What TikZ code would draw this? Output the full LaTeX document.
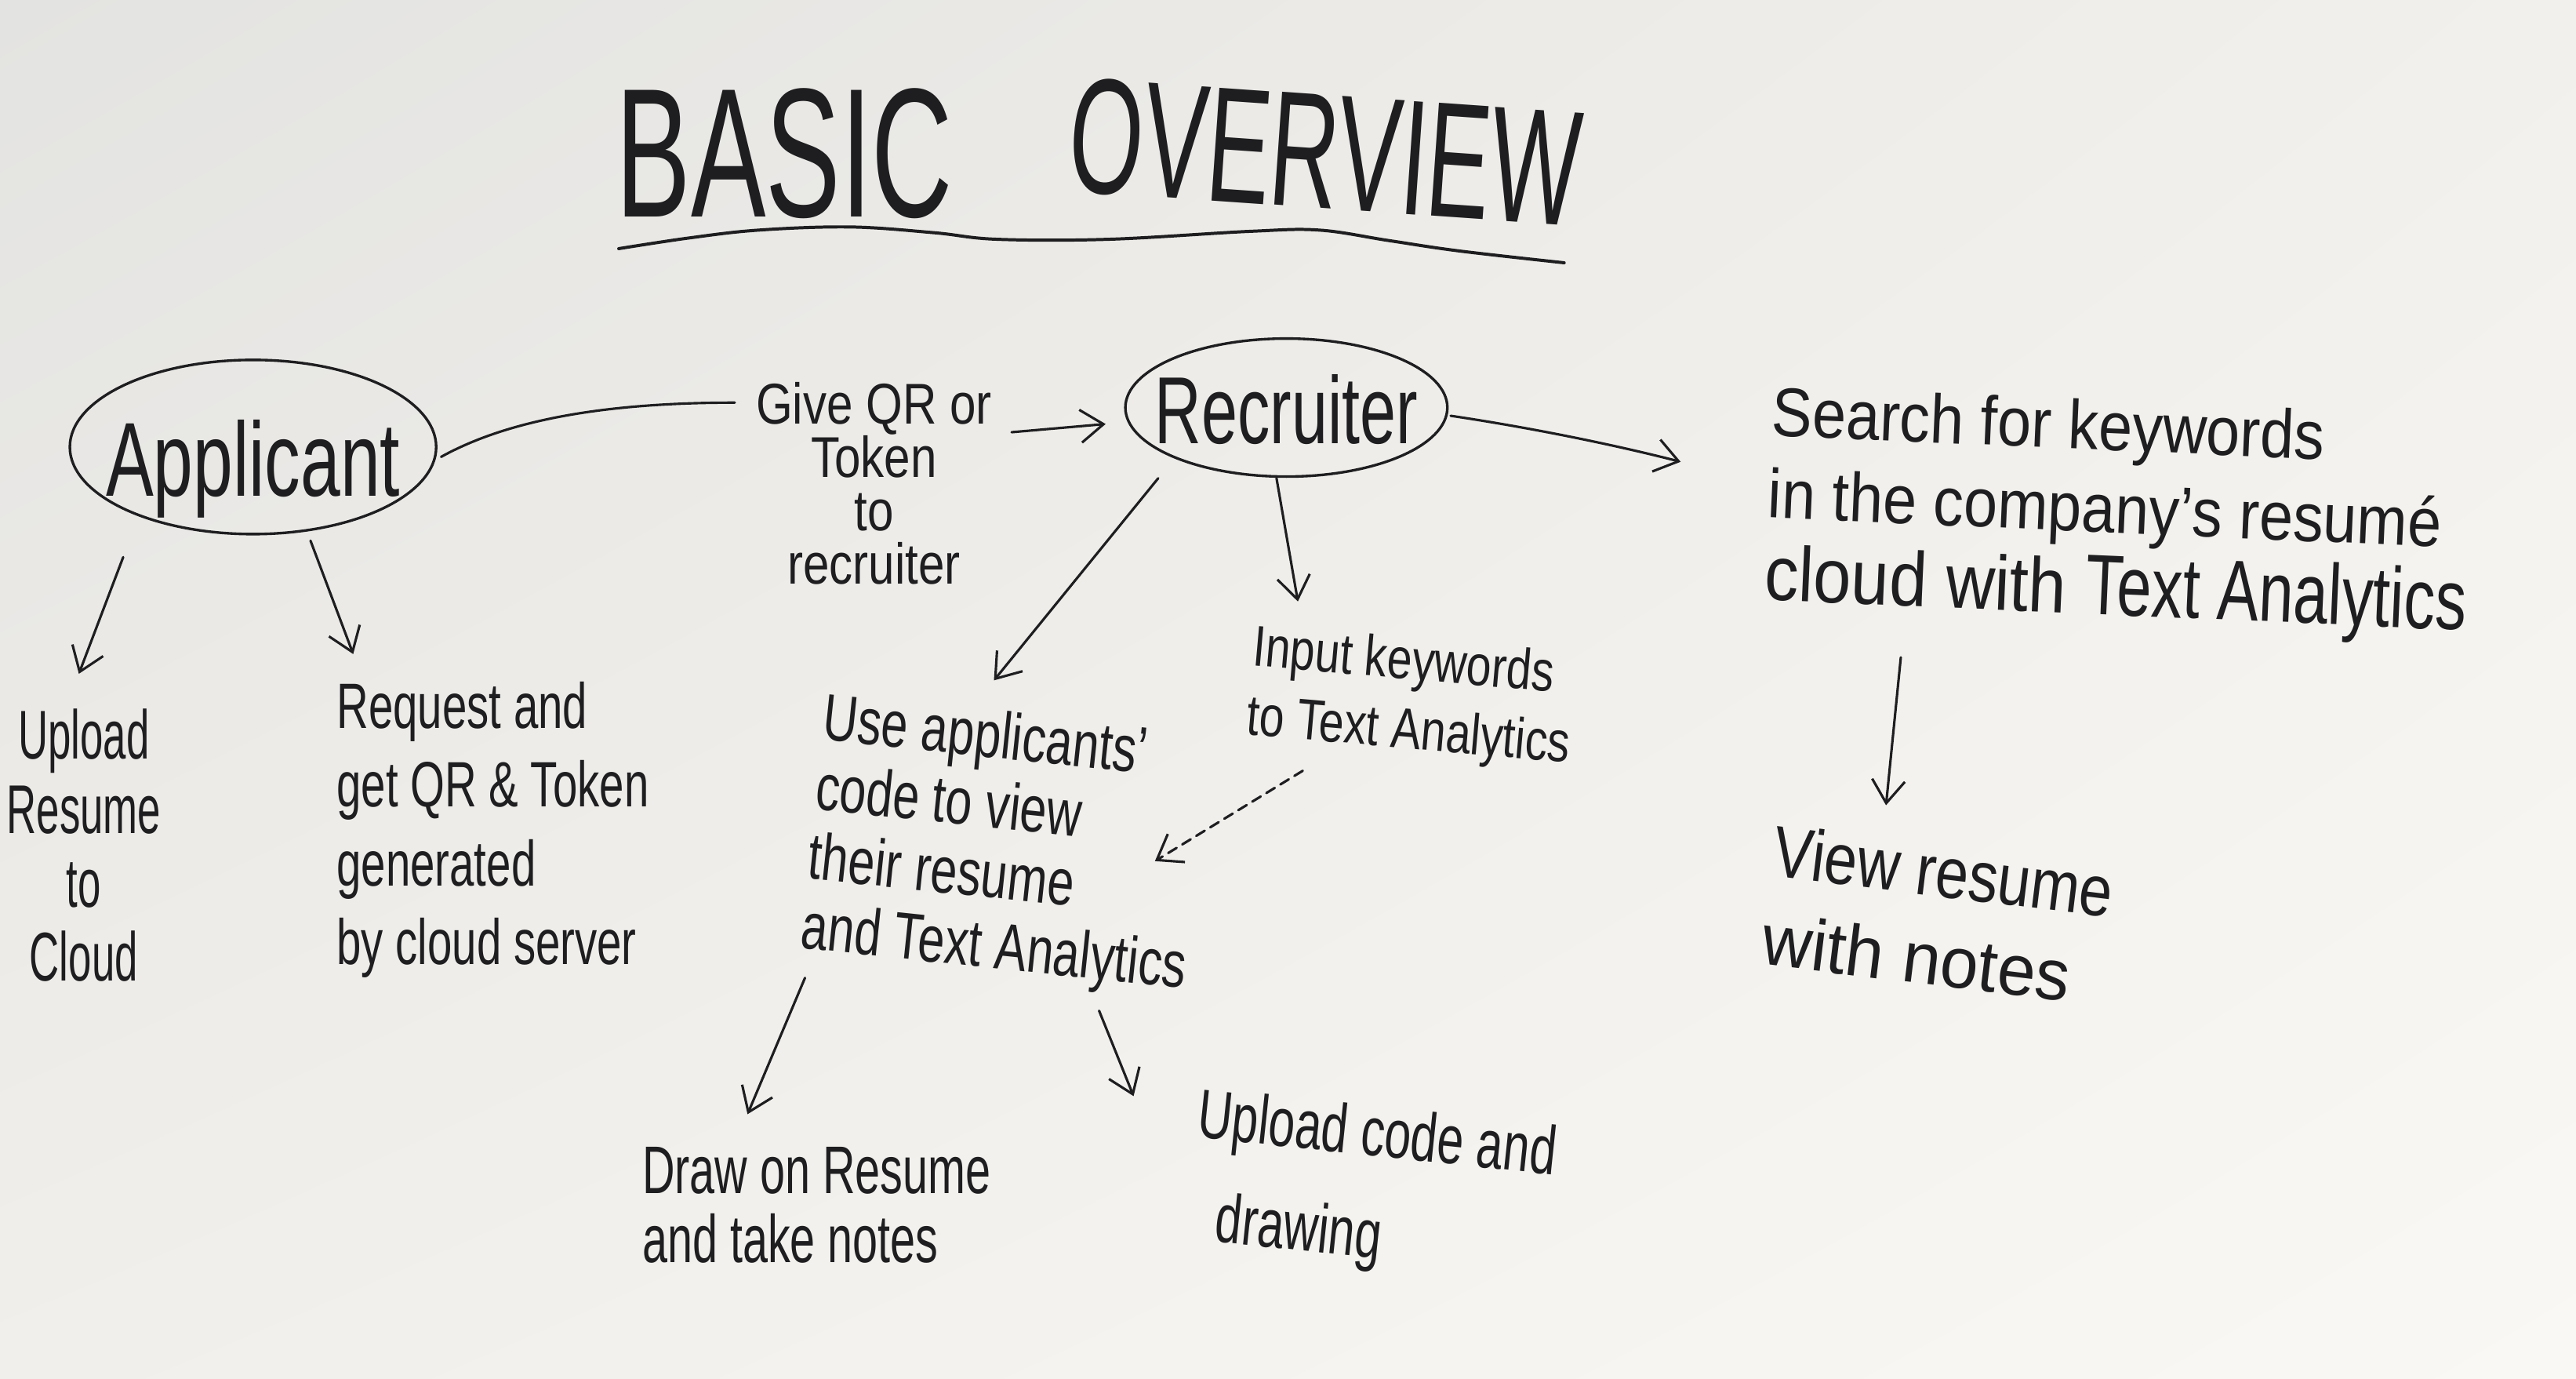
\documentclass[tikz,border=0pt]{standalone}
\usepackage{fontspec}
\setmainfont{Liberation Sans}
\usepackage{graphicx}
\usetikzlibrary{shapes.geometric,arrows.meta,shadings}
\definecolor{ink}{RGB}{30,30,32}
\definecolor{bgTL}{RGB}{227,227,225}
\definecolor{bgTR}{RGB}{242,240,236}
\definecolor{bgBL}{RGB}{241,239,235}
\definecolor{bgBR}{RGB}{250,248,244}
\newcommand{\sx}[2]{\scalebox{#1}[1]{#2}}
\newcommand{\hwl}[4]{{\fontsize{#1}{#2}\selectfont\lineskiplimit=-1000pt\relax\scalebox{#3}[1]{\vtop{\halign{##\hfil\cr#4\crcr}}}}}
\newcommand{\hwc}[4]{{\fontsize{#1}{#2}\selectfont\lineskiplimit=-1000pt\relax\scalebox{#3}[1]{\vtop{\halign{\hfil##\hfil\cr#4\crcr}}}}}
\newcommand{\elltext}[4]{\makebox[0pt]{\raisebox{-#1}[0pt][0pt]{\fontsize{#2}{#2}\selectfont\sx{#3}{#4}}}}
\begin{document}
\begin{tikzpicture}[x=1pt,y=-1pt,line cap=round,line join=round,
  every node/.style={inner sep=0pt,outer sep=0pt,text=ink},
  ell/.style={ellipse,draw=ink,line width=1.6pt},
  ln/.style={draw=ink,line width=1.5pt},
  arr/.style={draw=ink,line width=1.5pt,-{Straight Barb[length=14pt,width=20pt]}},
  dasharr/.style={arr,dash pattern=on 6pt off 4pt}]
\shade[upper left=bgTL,upper right=bgTR,lower left=bgBL,lower right=bgBR] (0,0) rectangle (1568,839);
\useasboundingbox (0,0) rectangle (1568,839);

% title
\node[anchor=base west] (title) at (375,132) {\fontsize{112}{112}\selectfont\sx{0.61}{BASIC}\hspace{69pt}\raisebox{16pt}{\rotatebox{-4}{\fontsize{100}{100}\selectfont\sx{0.58}{OVERVIEW}}}};
\draw[ln,line width=1.9pt] plot[smooth,tension=0.6] coordinates {(376.6,151.3) (419.4,144.8) (462,140) (517.4,138.1) (568.5,141.6) (606.9,145.6) (675,145.6) (760.3,140.8) (802.9,140) (845.5,146.4) (888.2,152.7) (952.1,159.9)};

% main nodes
\node[ell,minimum width=223pt,minimum height=106pt] (applicant) at (154,272) {\elltext{30pt}{64}{0.68}{Applicant}};
\node[ell,minimum width=196pt,minimum height=84pt] (recruiter) at (783,248) {\elltext{22pt}{58}{0.68}{Recruiter}};
\node[anchor=base] (give) at (532,258) {\hwc{35}{32.5}{0.82}{Give QR or\cr Token\cr to\cr recruiter}};
\node[anchor=base west,rotate=-2.5] (search) at (1078,265) {\hwl{42}{50}{1}{\sx{0.88}{Search for keywords}\cr \sx{0.88}{in the company's resumé}\cr {\fontsize{47}{50}\selectfont\sx{0.88}{cloud with }}{\fontsize{52}{50}\selectfont\sx{0.73}{Text Analytics}}}};
\node[anchor=base west,rotate=-7] (view) at (1078,533) {\hwl{44}{54}{1}{\sx{0.82}{View resume}\cr \sx{0.95}{with notes}}};
\node[anchor=base] (upres) at (51,462) {\hwc{42}{45}{0.6}{Upload\cr Resume\cr to\cr Cloud}};
\node[anchor=base west] (req) at (205,443) {\hwl{39}{48}{0.69}{Request and\cr get QR \& Token\cr generated\cr by cloud server}};
\node[anchor=base west,rotate=-6] (use) at (500,450) {\hwl{40}{42.5}{0.73}{Use applicants'\cr code to view\cr their resume\cr and Text Analytics}};
\node[anchor=base west,rotate=-5] (input) at (762,405) {\hwl{35}{42}{0.78}{Input keywords\cr to Text Analytics}};
\node[anchor=base west] (drawnotes) at (391,726) {\hwl{41}{42}{0.67}{Draw on Resume\cr and take notes}};
\node[anchor=base west,rotate=-6] (upcode) at (728,692) {\hwl{42}{62}{0.69}{Upload code and\cr\hspace{25pt}drawing}};

% connectors
\draw[ln] ([shift={(3,6)}]applicant.east) .. controls (310,255) and (370,245) .. ([shift={(-13,-13)}]give.base west);
\draw[arr] ([shift={(12,5)}]give.base east) -- ([shift={(-12,10)}]recruiter.west);
\draw[arr] ([shift={(2,5)}]recruiter.east) .. controls (930,260) and (980,270) .. ([shift={(-55,16)}]search.base west);
\draw[arr] ([shift={(79,135)}]search.base west) -- ([shift={(70,-43)}]view.base west);
\draw[arr] ([shift={(-79,67)}]applicant.center) -- ([shift={(-3,-52)}]upres.base);
\draw[arr] ([shift={(35,57)}]applicant.center) -- ([shift={(10,-45)}]req.base west);
\draw[arr] ([shift={(-78,43)}]recruiter.center) -- ([shift={(105,-36)}]use.base west);
\draw[arr] ([shift={(-6,43)}]recruiter.center) -- ([shift={(28,-39)}]input.base west);
\draw[dasharr] ([shift={(31,64)}]input.base west) -- ([shift={(203,74)}]use.base west);
\draw[arr] ([shift={(-10,145)}]use.base west) -- ([shift={(64,-48)}]drawnotes.base west);
\draw[arr] ([shift={(169,165)}]use.base west) -- ([shift={(-38,-25)}]upcode.base west);
\end{tikzpicture}
\end{document}
